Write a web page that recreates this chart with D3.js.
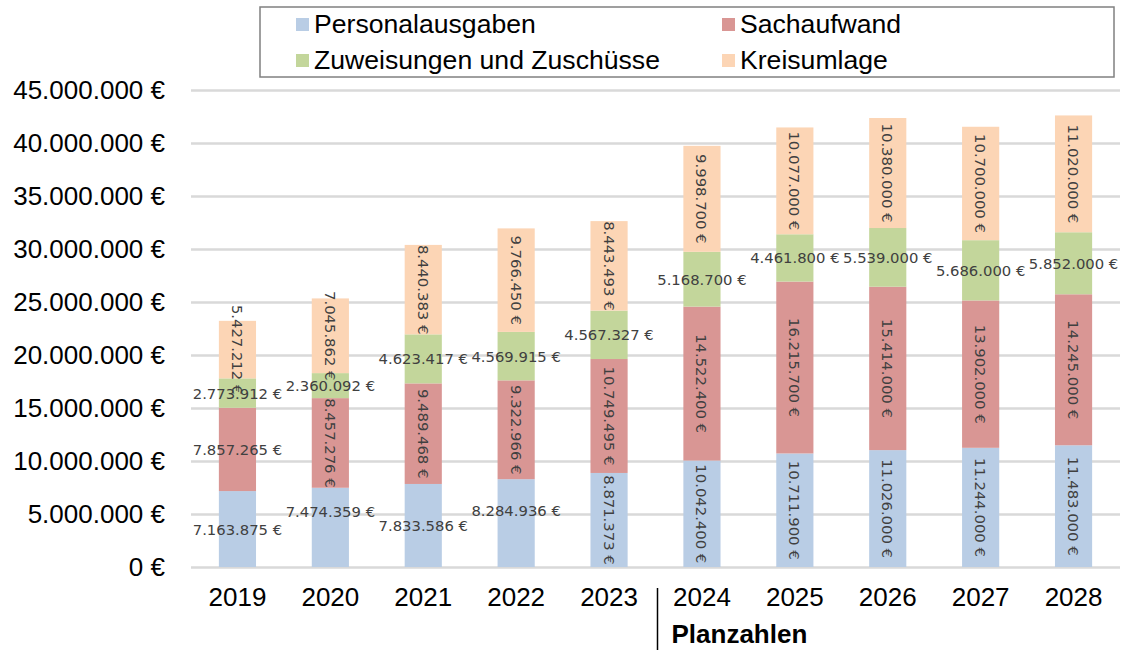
<!DOCTYPE html>
<html>
<head>
<meta charset="utf-8">
<script src="https://cdn.jsdelivr.net/npm/d3@7"></script>
<style>
  body { margin: 0; background: #fff; }
  svg { display: block; }
</style>
</head>
<body>
<svg id="chart"></svg>
<script>
var years = ['2019', '2020', '2021', '2022', '2023', '2024', '2025', '2026', '2027', '2028'];
var seriesNames = ['Personalausgaben', 'Sachaufwand', 'Zuweisungen und Zuschüsse', 'Kreisumlage'];
var personalausgaben = [7163875, 7474359, 7833586, 8284936, 8871373, 10042400, 10711900, 11026000, 11244000, 11483000];
var sachaufwand = [7857265, 8457276, 9489468, 9322966, 10749495, 14522400, 16215700, 15414000, 13902000, 14245000];
var zuweisungen = [2773912, 2360092, 4623417, 4569915, 4567327, 5168700, 4461800, 5539000, 5686000, 5852000];
var kreisumlage = [5427212, 7045862, 8440383, 9766450, 8443493, 9998700, 10077000, 10380000, 10700000, 11020000];
var yTicks = [0, 5e6, 10e6, 15e6, 20e6, 25e6, 30e6, 35e6, 40e6, 45e6];
var firstPlanYear = '2024';

// label orientation per series (true = rotated), as set in the original
var rotated = [
  [false, false, false, false, true, true, true, true, true, true],
  [false, true, true, true, true, true, true, true, true, true],
  [false, false, false, false, false, false, false, false, false, false],
  [true, true, true, true, true, true, true, true, true, true]
];
// a few labels were dragged up by hand
var labelNudge = { '0-2020': -16, '0-2022': -13 };

var colors = ['#b9cde5', '#d99694', '#c3d69b', '#fcd5b5'];

var width = 1128, height = 650;
var margin = { top: 90, right: 8, bottom: 83, left: 191 };

var svg = d3.select('#chart').attr('width', width).attr('height', height);

var table = years.map(function(y, i) {
  return { year: y, s0: personalausgaben[i], s1: sachaufwand[i], s2: zuweisungen[i], s3: kreisumlage[i] };
});
var keys = ['s0', 's1', 's2', 's3'];
var stacked = d3.stack().keys(keys)(table);

var x = d3.scaleBand().domain(years)
  .range([margin.left, width - margin.right])
  .paddingInner(0.6).paddingOuter(0.3);
var y = d3.scaleLinear().domain([0, 45e6]).range([height - margin.bottom, margin.top]);

var fmt = function(v) {
  return d3.format(',')(v).replace(/,/g, '.') + ' €';
};

// Gridlines + y labels
var yAxis = d3.axisLeft(y).tickValues(yTicks).tickSize(-(width - margin.left - margin.right))
  .tickPadding(26).tickFormat(fmt);
var gy = svg.append('g').attr('transform', 'translate(' + margin.left + ',0)').call(yAxis);
gy.select('.domain').remove();
gy.selectAll('.tick line').attr('stroke', '#d9d9d9').attr('stroke-width', 2.5);
gy.selectAll('.tick text')
  .attr('font-family', 'Liberation Sans, Arial, sans-serif')
  .attr('font-size', 26).attr('fill', '#000');

// Bars
var layers = svg.append('g').selectAll('g').data(stacked).enter().append('g')
  .attr('fill', function(d, i) { return colors[i]; });
layers.selectAll('rect').data(function(d) { return d; }).enter().append('rect')
  .attr('x', function(d) { return x(d.data.year); })
  .attr('width', x.bandwidth())
  .attr('y', function(d) { return y(d[1]); })
  .attr('height', function(d) { return y(d[0]) - y(d[1]); });

// Data labels
var labelG = svg.append('g')
  .attr('font-family', 'DejaVu Sans, Verdana, sans-serif')
  .attr('font-size', 14.8).attr('fill', '#404040');
stacked.forEach(function(layer, si) {
  layer.forEach(function(d, i) {
    var cx = x(d.data.year) + x.bandwidth() / 2;
    var cy = (y(d[0]) + y(d[1])) / 2 + (labelNudge[si + '-' + d.data.year] || 0);
    var t = labelG.append('text')
      .attr('text-anchor', 'middle')
      .attr('dominant-baseline', 'central')
      .text(fmt(d[1] - d[0]));
    if (rotated[si][i]) {
      t.attr('transform', 'translate(' + cx + ',' + cy + ') rotate(90)');
    } else {
      t.attr('x', cx).attr('y', cy);
    }
  });
});

// x axis labels
var xAxis = d3.axisBottom(x).tickSize(0).tickPadding(21);
var gx = svg.append('g').attr('transform', 'translate(0,' + (height - margin.bottom) + ')').call(xAxis);
gx.select('.domain').remove();
gx.selectAll('.tick text')
  .attr('font-family', 'Liberation Sans, Arial, sans-serif')
  .attr('font-size', 26).attr('fill', '#000');

// Separator for planned figures
var sepX = x(firstPlanYear) - x.step() * x.paddingInner() / 2 + 2;
svg.append('line')
  .attr('x1', sepX).attr('x2', sepX)
  .attr('y1', 588).attr('y2', 650)
  .attr('stroke', '#000').attr('stroke-width', 1.5);
svg.append('text')
  .attr('x', sepX + 14).attr('y', 643)
  .attr('font-family', 'Liberation Sans, Arial, sans-serif')
  .attr('font-weight', 'bold').attr('font-size', 26)
  .text('Planzahlen');

// Legend
var legend = svg.append('g');
legend.append('rect')
  .attr('x', 260).attr('y', 7).attr('width', 854).attr('height', 70)
  .attr('fill', '#fff').attr('stroke', '#808080').attr('stroke-width', 1.5);
var legendPos = [[296, 24], [722, 24], [296, 60], [722, 60]];
seriesNames.forEach(function(name, i) {
  var p = legendPos[i];
  legend.append('rect')
    .attr('x', p[0]).attr('y', p[1] - 6).attr('width', 13).attr('height', 13)
    .attr('fill', colors[i]);
  legend.append('text')
    .attr('x', p[0] + 18).attr('y', p[1])
    .attr('dominant-baseline', 'central')
    .attr('font-family', 'Liberation Sans, Arial, sans-serif')
    .attr('font-size', 26.6).attr('fill', '#000')
    .text(name);
});
</script>
</body>
</html>
